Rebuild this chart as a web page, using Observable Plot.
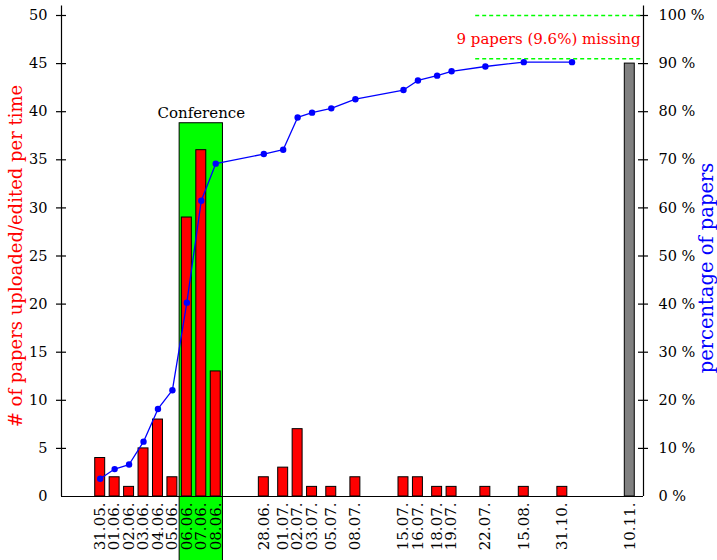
<!DOCTYPE html>
<html>
<head>
<meta charset="utf-8">
<script src="https://cdn.jsdelivr.net/npm/d3@7"></script>
<script src="https://cdn.jsdelivr.net/npm/@observablehq/plot@0.6"></script>
<style>
  html, body { margin: 0; padding: 0; background: #fff; }
</style>
</head>
<body>
<div id="chart"></div>
<script>
// ---- data ----
const dates   = ["31.05.","01.06.","02.06.","03.06.","04.06.","05.06.","06.06.","07.06.","08.06.",
                 "28.06.","01.07.","02.07.","03.07.","05.07.","08.07.","15.07.","16.07.","18.07.",
                 "19.07.","22.07.","15.08.","31.10."];
const slots   = [0,1,2,3,4,5,6,7,8,11.33,12.67,13.67,14.67,16,17.67,21,22,23.33,24.33,26.67,29.33,32];
const uploads = [4,2,1,5,8,2,29,36,13,2,3,7,1,1,2,2,2,1,1,1,1,1];
const pctSlots = [0,1,2,3,4,5,6,7,8,11.33,12.67,13.67,14.67,16,17.67,21,22,23.33,24.33,26.67,29.33,32.67];
const percent  = [3.7,5.7,6.65,11.4,18.2,22.1,40.3,61.5,69.2,71.2,72.1,78.8,79.8,80.7,82.6,84.5,86.5,87.5,88.4,89.4,90.3,90.3];
const missingDate = "10.11.";
const missingSlot = 36.67;
const missingValue = 45;
const confStart = "06.06.", confEnd = "08.06.", confTop = 38.8;
const leftTicks  = [0,5,10,15,20,25,30,35,40,45,50];
const rightTicks = [0,10,20,30,40,50,60,70,80,90,100];
const missingLevels = [100, 91];
const missingLabel = "9 papers (9.6%) missing";
const missingLabelPct = 95;
const dashStart = 26;

// ---- derived tables ----
const bars = dates.map((d, i) => ({date: d, x: slots[i], n: uploads[i]}));
const line = pctSlots.map((x, i) => ({x, pct: percent[i]}));
const labels = [...bars, {date: missingDate, x: missingSlot}];
const slotOf = d => slots[dates.indexOf(d)];
const conf = [{x1: slotOf(confStart) - 0.5, x2: slotOf(confEnd) + 0.5, top: confTop}];

const xmin = -2.68, xmax = 37.62;
const font = "DejaVu Serif";

const chart = Plot.plot({
  width: 717, height: 560,
  marginLeft: 61, marginRight: 74, marginTop: 15, marginBottom: 64,
  style: {fontFamily: font, background: "white", overflow: "visible"},
  x: {domain: [xmin, xmax], axis: null},
  y: {domain: [0, 50], axis: null},
  marks: [
    // conference box
    Plot.rect(conf, {x1: "x1", x2: "x2", y1: -7, y2: "top", fill: "#00ff00", stroke: "black", strokeWidth: 1}),
    Plot.text(conf, {x: d => (d.x1 + d.x2) / 2, y: "top", text: () => "Conference", dy: -5,
                     lineAnchor: "bottom", fontSize: 15, fill: "black"}),
    // bars
    Plot.rect(bars, {x1: d => d.x - 0.345, x2: d => d.x + 0.345, y1: 0, y2: "n",
                     fill: "#ff0000", stroke: "black", strokeWidth: 1}),
    Plot.rect([{x: missingSlot, n: missingValue}], {x1: d => d.x - 0.345, x2: d => d.x + 0.345, y1: 0, y2: "n",
                     fill: "#808080", stroke: "black", strokeWidth: 1}),
    // axes lines
    Plot.ruleY([0], {stroke: "black", strokeWidth: 1.2}),
    Plot.ruleX([xmin, xmax], {y1: 0, y2: 51, stroke: "black", strokeWidth: 1.2}),
    // left ticks & labels
    Plot.ruleY(leftTicks.filter(d => d > 0), {insetRight: 572, dx: -5, stroke: "black", strokeWidth: 1.2}),
    Plot.text(leftTicks, {x: xmin, y: d => d, dx: -14, textAnchor: "end", fontSize: 14.5, fill: "black"}),
    // right ticks & labels
    Plot.ruleY(rightTicks.filter(d => d > 0), {y: d => d / 2, insetLeft: 572, dx: 5, stroke: "black", strokeWidth: 1.2}),
    Plot.text(rightTicks, {x: xmax, y: d => d / 2, text: d => d + " %", dx: 15,
                     textAnchor: "start", fontSize: 14.5, fill: "black"}),
    // missing annotation
    Plot.ruleY(missingLevels, {y: d => d / 2, x1: dashStart, x2: xmax, stroke: "#00ff00",
                     strokeWidth: 1.5, strokeDasharray: "4,3"}),
    Plot.text([missingLabel], {x: xmax, y: missingLabelPct / 2, dx: -3, textAnchor: "end",
                     fill: "#ff0000", fontSize: 15}),
    // percentage line
    Plot.line(line, {x: "x", y: d => d.pct / 2, stroke: "#0000ff", strokeWidth: 1.3}),
    Plot.dot(line, {x: "x", y: d => d.pct / 2, r: 3.2, fill: "#0000ff"}),
    // x labels
    Plot.text(labels, {x: "x", y: 0, text: "date", rotate: -90, dy: 6, textAnchor: "end",
                     fontSize: 15, fill: "black"}),
    // axis titles
    Plot.text(["# of papers uploaded/edited per time"], {frameAnchor: "left", dx: -45, rotate: -90,
                     textAnchor: "middle", fill: "#ff0000", fontSize: 18}),
    Plot.text(["percentage of papers"], {frameAnchor: "right", dx: 63, dy: 12, rotate: -90,
                     textAnchor: "middle", fill: "#0000ff", fontSize: 19.5})
  ]
});
document.getElementById("chart").appendChild(chart);
</script>
</body>
</html>
